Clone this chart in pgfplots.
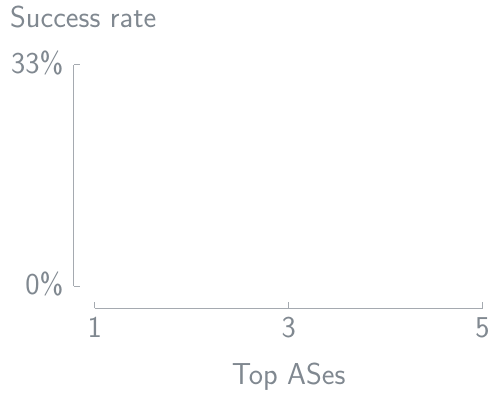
\documentclass[border=0pt]{standalone}
\usepackage{pgfplots}
\pgfplotsset{compat=1.18}
\renewcommand{\familydefault}{\sfdefault}
\definecolor{cgray}{RGB}{128,136,144}
\definecolor{lgray}{RGB}{165,170,176}
\begin{document}
\begin{tikzpicture}
\begin{axis}[
  scale only axis, width=389bp, height=222bp,
  xmin=1, xmax=5, ymin=0, ymax=33,
  axis x line*=bottom, axis y line*=left,
  axis x line shift=22bp, axis y line shift=21bp,
  xtick={1,3,5}, ytick={0,33}, yticklabels={0\%,33\%},
  tick align=inside, major tick length=6bp,
  axis line style={-, draw=lgray, line width=1.1bp},
  every tick/.style={draw=lgray, line width=1.1bp},
  /pgf/number format/assume math mode=true,
  tick label style={text=cgray, font=\fontsize{30.5}{36}\selectfont},
  xticklabel style={yshift=-6bp},
  yticklabel style={xshift=-7bp, yshift=2bp},
  xlabel={Top ASes},
  xlabel style={text=cgray, font=\fontsize{30.5}{36}\selectfont, yshift=-18bp},
  clip=false,
]
\addplot[draw=none, forget plot] coordinates {(1,0) (5,0)};
\coordinate (O) at (rel axis cs:0,0);
\node[anchor=base west, text=cgray, font=\fontsize{30.5}{36}\selectfont, inner sep=0pt]
  at ([xshift=-85bp, yshift=37bp]rel axis cs:0,1) {Success rate};
\end{axis}
\path[use as bounding box] ([shift={(-95bp,-102bp)}]O) rectangle ([shift={(398bp,287bp)}]O);
\end{tikzpicture}
\end{document}
